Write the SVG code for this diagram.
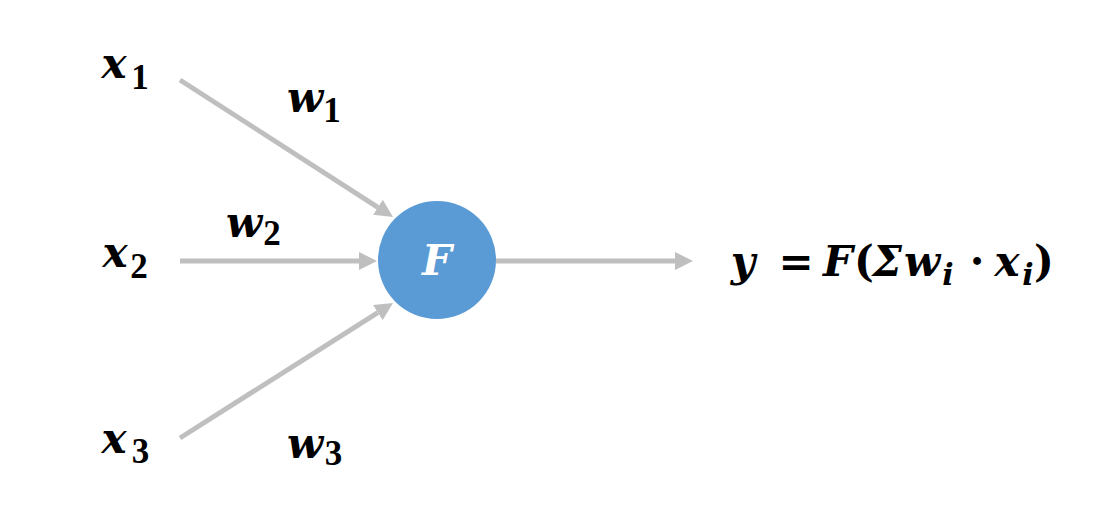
<svg xmlns="http://www.w3.org/2000/svg" width="1100" height="518" viewBox="0 0 1100 518">
<style>
text{text-anchor:middle}
.m{font-family:"DejaVu Serif","Liberation Serif",serif;font-weight:bold;font-style:italic;font-size:42px;fill:#000}
.s{font-family:"Liberation Serif","DejaVu Serif",serif;font-weight:bold;font-size:35px;fill:#000}
.si{font-family:"DejaVu Serif","Liberation Serif",serif;font-weight:bold;font-style:italic;font-size:30px;fill:#000}
.up{font-family:"DejaVu Serif","Liberation Serif",serif;font-weight:bold;font-size:42px;fill:#000}
.c{stroke:#bfbfbf;stroke-width:5;fill:none}
</style>
<defs>
<marker id="ah" markerUnits="userSpaceOnUse" markerWidth="18" markerHeight="18" refX="0" refY="9" orient="auto">
<path d="M0,0 L18,9 L0,18 z" fill="#bfbfbf"/>
</marker>
</defs>
<g id="connectors">
<line class="c" x1="180" y1="80" x2="377.9" y2="207.3" marker-end="url(#ah)"/>
<line class="c" x1="180" y1="261" x2="359" y2="261" marker-end="url(#ah)"/>
<line class="c" x1="180" y1="438" x2="377.8" y2="312.6" marker-end="url(#ah)"/>
<line class="c" x1="496" y1="261" x2="675" y2="261" marker-end="url(#ah)"/>
</g>
<g id="x1"><text class="m" x="114" y="78">x</text><text class="s" x="140" y="89">1</text></g>
<g id="x2"><text class="m" x="115" y="267">x</text><text class="s" x="139" y="278">2</text></g>
<g id="x3"><text class="m" x="114" y="453">x</text><text class="s" x="140.5" y="463">3</text></g>
<g id="w1"><text class="m" x="305" y="112">w</text><text class="s" x="332" y="122">1</text></g>
<g id="w2"><text class="m" x="244" y="237">w</text><text class="s" x="272" y="245">2</text></g>
<g id="w3"><text class="m" x="305" y="458">w</text><text class="s" x="333.5" y="465">3</text></g>
<g id="neuron">
<circle cx="437" cy="260" r="59" fill="#5b9bd5"/>
<text class="m" x="437" y="275" style="fill:#fff">F</text>
</g>
<g id="output">
<text class="m" x="743" y="276">y</text>
<text class="up" x="796" y="276">=</text>
<text class="m" x="838" y="276">F</text>
<text class="up" x="864" y="276">(</text>
<text class="m" x="887" y="276">Σ</text>
<text class="m" x="922" y="276">w</text>
<text class="si" x="948" y="285">i</text>
<text class="up" x="977" y="276">·</text>
<text class="m" x="1007" y="276">x</text>
<text class="si" x="1028" y="285">i</text>
<text class="up" x="1044" y="276">)</text>
</g>
</svg>
